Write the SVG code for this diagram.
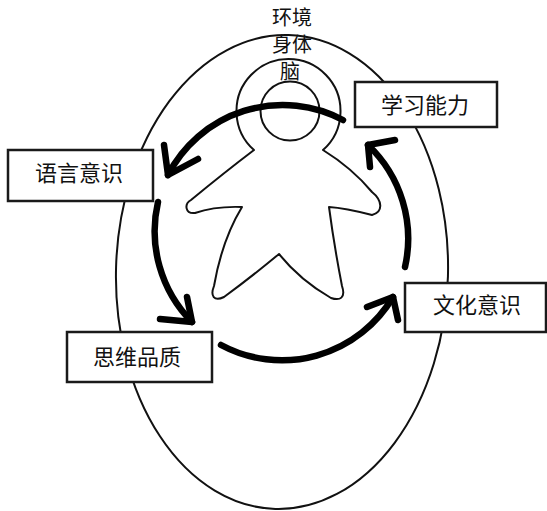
<svg xmlns="http://www.w3.org/2000/svg" width="547" height="511" viewBox="0 0 547 511">
  <style>
    .thin { fill: none; stroke: #111; stroke-width: 2; }
    .body { fill: #fff; stroke: #111; stroke-width: 2; stroke-linejoin: round; }
    .box { fill: #fff; stroke: #1a1a1a; stroke-width: 2.5; }
    .label { font-family: "Noto Sans CJK SC", "Noto Sans", sans-serif; font-size: 22px; fill: #111; text-anchor: middle; }
    .top { font-family: "Noto Sans CJK SC", "Noto Sans", sans-serif; font-size: 20px; fill: #111; text-anchor: middle; }
    .flow { fill: none; stroke: #000; stroke-width: 6.5; stroke-linecap: round; stroke-linejoin: round; }
  </style>

  <rect width="547" height="511" fill="#fff"/>

  <!-- outer environment ellipse -->
  <g id="environment">
    <ellipse class="thin" cx="282" cy="272" rx="166" ry="237" transform="rotate(1.6 282 272)"/>
  </g>

  <!-- human figure: body outline with head ring, and the brain circle -->
  <g id="body">
    <path class="body" d="M 254 150 A 52 52 0 1 1 323 150
      Q 352 168 372 192 C 382 200 384 212 372 215 Q 345 208 329 207
      Q 334 245 342 286 C 346 298 340 301 331 298 Q 300 280 279 254
      Q 250 278 224 297 C 214 302 210 296 214 286 Q 222 240 242 207
      Q 215 206 195 213 C 185 214 184 204 191 200 Q 225 172 254 150 Z"/>
  </g>
  <g id="brain">
    <circle class="thin" cx="290" cy="111" r="29.5"/>
  </g>

  <!-- labels above the figure -->
  <g id="top-labels">
    <text class="top" x="292" y="25">环境</text>
    <text class="top" x="292" y="52">身体</text>
    <text class="top" x="290" y="79">脑</text>
  </g>

  <!-- cycle of arrows -->
  <g id="connectors">
    <path class="flow" d="M 343 120 A 129 129 0 0 0 168 175"/>
    <polyline class="flow" points="164,145 168,175 198,159"/>
    <path class="flow" d="M 158 202 A 129 129 0 0 0 192 322"/>
    <polyline class="flow" points="187,297 192,322 160,319"/>
    <path class="flow" d="M 221 345 A 129 129 0 0 0 393 297"/>
    <polyline class="flow" points="367,307 393,297 398,320"/>
    <path class="flow" d="M 405 267 A 129 129 0 0 0 368 145"/>
    <polyline class="flow" points="370,167 368,145 395,140"/>
  </g>

  <!-- labelled boxes -->
  <g id="learning">
    <rect class="box" x="355" y="82" width="142" height="45"/>
    <text class="label" x="425" y="113">学习能力</text>
  </g>
  <g id="language">
    <rect class="box" x="8" y="150" width="145" height="51"/>
    <text class="label" x="79" y="181">语言意识</text>
  </g>
  <g id="culture">
    <rect class="box" x="405" y="283" width="141" height="49"/>
    <text class="label" x="477" y="313">文化意识</text>
  </g>
  <g id="thinking">
    <rect class="box" x="67" y="332" width="145" height="50"/>
    <text class="label" x="137" y="365">思维品质</text>
  </g>
</svg>
